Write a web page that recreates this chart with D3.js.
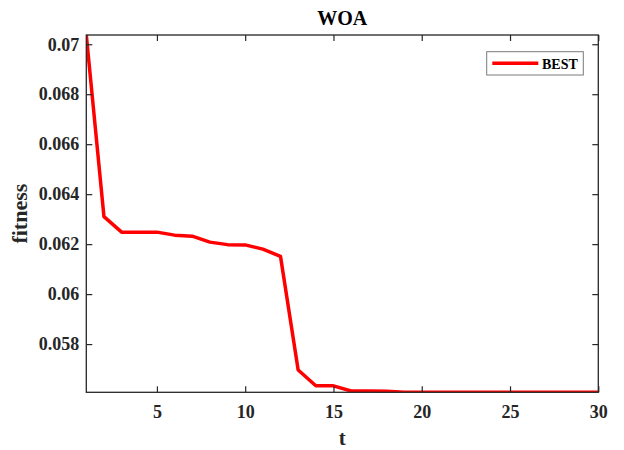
<!DOCTYPE html>
<html><head><meta charset="utf-8">
<script src="https://cdn.jsdelivr.net/npm/d3@7"></script>
<style>body{margin:0;background:#fff}svg{display:block}</style>
</head><body>
<svg id="c" width="624" height="450"></svg>
<script>
const iterations = d3.range(1, 31);
const bestFitness = [0.07037, 0.06310, 0.06248, 0.06248, 0.06248, 0.06236, 0.06232, 0.06208, 0.06198, 0.06197,
  0.06180, 0.06151, 0.05696, 0.05633, 0.05633, 0.05612, 0.05612, 0.05611, 0.05607, 0.05607,
  0.05607, 0.05607, 0.05607, 0.05607, 0.05607, 0.05607, 0.05607, 0.05607, 0.05607, 0.05607];
const xTicks = [5, 10, 15, 20, 25, 30];
const yTicks = [0.058, 0.06, 0.062, 0.064, 0.066, 0.068, 0.07];
const yTickLabels = ["0.058", "0.06", "0.062", "0.064", "0.066", "0.068", "0.07"];
const seriesName = "BEST";
const titleText = "WOA";
const xLabel = "t";
const yLabel = "fitness";

const L = 86.3, R = 598.3, T = 35, B = 392.3;
const font = "'Liberation Serif','Times New Roman',serif";
const axisColor = "#262626";
const svg = d3.select("#c");

const x = d3.scaleLinear().domain([1, 30]).range([L, R]);
const y = d3.scaleLinear().domain([d3.min(bestFitness), d3.max(bestFitness)]).range([B, T]);

svg.append("defs").append("clipPath").attr("id", "clip")
  .append("rect").attr("x", L).attr("y", T).attr("width", R - L).attr("height", B - T);

const data = iterations.map((t, i) => ({t, v: bestFitness[i]}));
svg.append("path").datum(data)
  .attr("clip-path", "url(#clip)")
  .attr("fill", "none").attr("stroke", "#ff0000").attr("stroke-width", 3.5)
  .attr("stroke-linejoin", "round")
  .attr("d", d3.line().x(d => x(d.t)).y(d => y(d.v)));

function styleAxis(g, labels) {
  g.select(".domain").remove();
  g.selectAll(".tick line").attr("stroke", axisColor).attr("stroke-width", 1.2);
  g.selectAll(".tick text").attr("fill", axisColor)
    .attr("font-family", font).attr("font-weight", "bold").attr("font-size", 18);
  if (!labels) g.selectAll(".tick text").remove();
}
const tl = 6;
svg.append("g").attr("transform", `translate(0,${B})`)
  .call(d3.axisBottom(x).tickValues(xTicks).tickSize(-tl).tickPadding(13))
  .call(g => styleAxis(g, true));
svg.append("g").attr("transform", `translate(0,${T})`)
  .call(d3.axisTop(x).tickValues(xTicks).tickSize(-tl))
  .call(g => styleAxis(g, false));
svg.append("g").attr("transform", `translate(${L},0)`)
  .call(d3.axisLeft(y).tickValues(yTicks).tickFormat((d, i) => yTickLabels[i]).tickSize(-tl).tickPadding(7))
  .call(g => styleAxis(g, true));
svg.append("g").attr("transform", `translate(${R},0)`)
  .call(d3.axisRight(y).tickValues(yTicks).tickSize(-tl))
  .call(g => styleAxis(g, false));

svg.append("rect").attr("x", L).attr("y", T).attr("width", R - L).attr("height", B - T)
  .attr("fill", "none").attr("stroke", axisColor).attr("stroke-width", 1.3);

svg.append("text").attr("x", (L + R) / 2).attr("y", 25).attr("text-anchor", "middle")
  .attr("font-family", font).attr("font-weight", "bold").attr("font-size", 20).attr("fill", "#000")
  .text(titleText);
svg.append("text").attr("x", (L + R) / 2).attr("y", 445).attr("text-anchor", "middle")
  .attr("font-family", font).attr("font-weight", "bold").attr("font-size", 21).attr("fill", axisColor)
  .text(xLabel);
svg.append("text").attr("transform", `translate(27,${(T + B) / 2}) rotate(-90)`).attr("text-anchor", "middle")
  .attr("font-family", font).attr("font-weight", "bold").attr("font-size", 22).attr("fill", axisColor)
  .text(yLabel);

const lg = svg.append("g");
lg.append("rect").attr("x", 486.7).attr("y", 51.7).attr("width", 96.6).attr("height", 23.3)
  .attr("fill", "#fff").attr("stroke", "#7a7a7a").attr("stroke-width", 1);
lg.append("line").attr("x1", 492.3).attr("x2", 538.3).attr("y1", 63.3).attr("y2", 63.3)
  .attr("stroke", "#ff0000").attr("stroke-width", 3.5);
lg.append("text").attr("x", 542).attr("y", 68.5)
  .attr("font-family", font).attr("font-weight", "bold").attr("font-size", 14).attr("fill", "#000")
  .text(seriesName);
</script>
</body></html>
